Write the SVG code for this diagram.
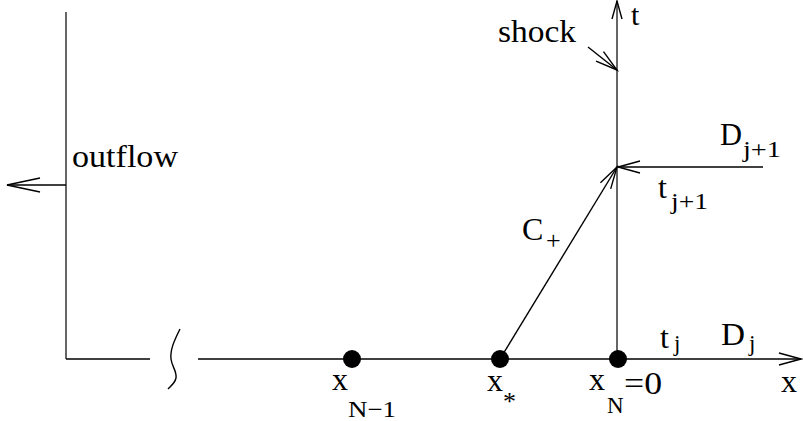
<svg xmlns="http://www.w3.org/2000/svg" width="803" height="421" viewBox="0 0 803 421">
<style>
.ax{stroke:#000;stroke-width:1.5;fill:none}
.gr{stroke:#666;stroke-width:2;fill:none}
.ln{stroke:#000;stroke-width:1.4;fill:none}
.dot{fill:#000}
</style>
<defs>
<marker id="ah" markerUnits="userSpaceOnUse" orient="auto" refX="0" refY="0" markerWidth="30" markerHeight="20" viewBox="-25 -10 30 20" overflow="visible">
<path d="M-22,-6 L0,0 L-22,6" fill="none" stroke="#000" stroke-width="1.4"/>
</marker>
<marker id="ahg" markerUnits="userSpaceOnUse" orient="auto" refX="0" refY="0" markerWidth="30" markerHeight="20" viewBox="-25 -10 30 20" overflow="visible">
<path d="M-18,-5 L0,0 L-18,5" fill="none" stroke="#000" stroke-width="1.4"/>
</marker>
<marker id="ahb" markerUnits="userSpaceOnUse" orient="auto" refX="0" refY="0" markerWidth="40" markerHeight="20" viewBox="-35 -10 40 20" overflow="visible">
<path d="M-33,-7 L0,0 L-33,7" fill="none" stroke="#000" stroke-width="1.6"/>
</marker>
</defs>

<g id="connectors">
<line class="gr" x1="66" y1="12" x2="66" y2="359"/>
<line class="ax" x1="66" y1="359" x2="150" y2="359"/>
<line class="ax" x1="198" y1="359" x2="801" y2="359" marker-end="url(#ah)"/>
<path class="ln" d="M180,329 C174,341 170,350 171,359 C172,367 177,371 176,378 C175,383 171,386 168,389"/>
<line class="gr" x1="617" y1="359" x2="617" y2="1" marker-end="url(#ahg)"/>
<line class="ln" x1="66" y1="185" x2="7" y2="185" marker-end="url(#ahb)"/>
<line class="ln" x1="588" y1="47" x2="617" y2="70" marker-end="url(#ah)"/>
<line class="ln" x1="763" y1="167" x2="618" y2="167" marker-end="url(#ah)"/>
<line class="ln" x1="500" y1="359" x2="617" y2="167" marker-end="url(#ah)"/>
</g>

<g font-family="'Liberation Serif', 'Times New Roman', 'DejaVu Serif', serif" fill="#000">
<g id="node-xN-1">
<circle class="dot" cx="352" cy="359" r="9"/>
<text font-size="32" x="332" y="390">x</text>
<text font-size="23" x="348" y="417" textLength="48" lengthAdjust="spacingAndGlyphs">N−1</text>
</g>

<g id="node-xstar">
<circle class="dot" cx="500" cy="359" r="9"/>
<text font-size="32" x="487" y="391">x</text>
<text font-size="26" x="503" y="410">*</text>
</g>

<g id="node-xN">
<circle class="dot" cx="618" cy="359" r="9"/>
<text font-size="32" x="589" y="390">x</text>
<text font-size="23" x="607" y="413">N</text>
<text font-size="32" x="624" y="394" textLength="38" lengthAdjust="spacingAndGlyphs">=0</text>
</g>

<g id="labels">
<text font-size="32" x="72" y="167" textLength="106" lengthAdjust="spacingAndGlyphs">outflow</text>
<text font-size="32" x="498" y="42" textLength="78" lengthAdjust="spacingAndGlyphs">shock</text>
<text font-size="30" x="631" y="25">t</text>
<text font-size="32" x="720" y="145" textLength="22" lengthAdjust="spacingAndGlyphs">D</text>
<text font-size="23" x="743" y="157" textLength="38" lengthAdjust="spacingAndGlyphs">j+1</text>
<text font-size="32" x="658" y="198">t</text>
<text font-size="23" x="671" y="209" textLength="37" lengthAdjust="spacingAndGlyphs">j+1</text>
<text font-size="32" x="522" y="240">C</text>
<text font-size="26" x="546" y="249">+</text>
<text font-size="32" x="660" y="348">t</text>
<text font-size="23" x="674" y="351">j</text>
<text font-size="32" x="721" y="345" textLength="24" lengthAdjust="spacingAndGlyphs">D</text>
<text font-size="23" x="749" y="351">j</text>
<text font-size="32" x="781" y="392">x</text>
</g>
</g>
</svg>
